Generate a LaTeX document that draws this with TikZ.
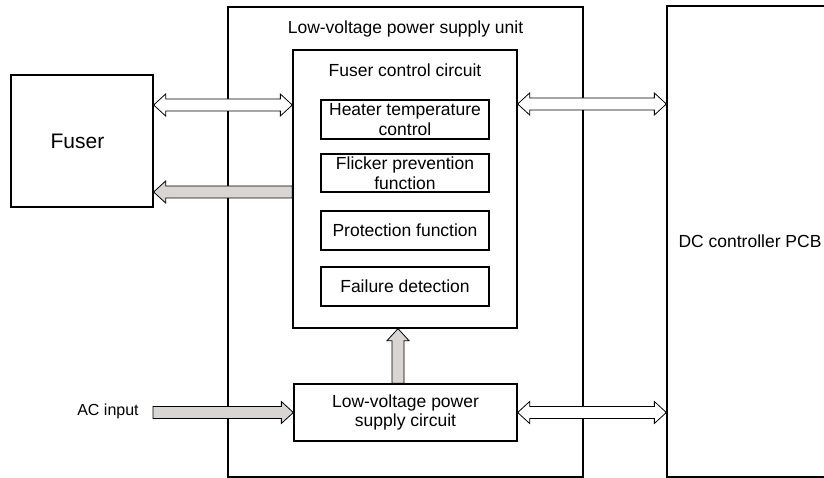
\documentclass[tikz,border=0pt]{standalone}
\usepackage{fontspec}
\setmainfont{Liberation Sans}
\usetikzlibrary{calc}
\definecolor{arrowgrey}{RGB}{217,213,211}
\newcommand\sglarrow[3]{%
  \coordinate (hA) at ($(#3)!12pt!(#2)$);
  \draw[#1] ($(#2)!6pt!90:(#3)$) -- ($(hA)!6pt!90:(#3)$) -- ($(hA)!11pt!90:(#3)$) -- (#3)
    -- ($(hA)!11pt!-90:(#3)$) -- ($(hA)!6pt!-90:(#3)$) -- ($(#2)!6pt!-90:(#3)$) -- cycle;
}
\newcommand\dblarrow[3]{%
  \coordinate (hA) at ($(#2)!12pt!(#3)$);
  \coordinate (hB) at ($(#3)!12pt!(#2)$);
  \draw[#1] (#2) -- ($(hA)!11pt!90:(#3)$) -- ($(hA)!6pt!90:(#3)$) -- ($(hB)!6pt!-90:(#2)$)
    -- ($(hB)!11pt!-90:(#2)$) -- (#3) -- ($(hB)!11pt!90:(#2)$) -- ($(hB)!6pt!90:(#2)$)
    -- ($(hA)!6pt!-90:(#3)$) -- ($(hA)!11pt!-90:(#3)$) -- cycle;
}
\tikzset{
  box/.style={draw, line width=1.3pt, inner sep=0pt, align=center},
  txt/.style={inner sep=0pt, align=center, font=\fontsize{17.5}{19.5}\selectfont},
  whitearrow/.style={draw, line width=0.8pt, fill=white, line join=miter},
  greyarrow/.style={draw, line width=0.8pt, fill=arrowgrey, line join=miter},
}
\begin{document}
\begin{tikzpicture}[x=1pt, y=-1pt]
\useasboundingbox (0,0) rectangle (824,478);
% outer boxes
\node[box, minimum width=355pt, minimum height=470pt] (unit) at (405.5,242) {};
\node[txt] (unittitle) at (405.5,29) {Low-voltage power supply unit};
\node[box, minimum width=163pt, minimum height=471pt, txt] (dc) at (748.5,241.5) {\hspace*{3pt}DC controller PCB};
\node[box, minimum width=142pt, minimum height=132pt, font=\fontsize{21}{24}\selectfont] (fuser) at (82,141) {\hspace*{-9pt}Fuser};
% fuser control circuit
\node[box, minimum width=224pt, minimum height=278pt] (fcc) at (405,189) {};
\node[txt] (fcctitle) at (405,70) {Fuser control circuit};
\node[box, txt, minimum width=168pt, minimum height=39pt] (heater) at (405,119.5) {Heater temperature\\control};
\node[box, txt, minimum width=168pt, minimum height=38pt] (flicker) at (405,173) {Flicker prevention\\function};
\node[box, txt, minimum width=168pt, minimum height=39pt] (prot) at (405,230.5) {Protection function};
\node[box, txt, minimum width=168pt, minimum height=39pt] (fail) at (405,286.5) {Failure detection};
% low-voltage circuit
\node[box, txt, minimum width=223pt, minimum height=57pt] (lv) at (405.5,412.5) {Low-voltage power\\supply circuit};
% AC input
\node[inner sep=0pt, font=\fontsize{16}{19}\selectfont] (ac) at (108,411) {AC input};
\coordinate (acs) at (153,412.5);
% arrows
\coordinate (f1) at ($(fuser.east)+(0,-36)$);
\coordinate (f2) at ($(fuser.east)+(0,51)$);
\dblarrow{whitearrow}{f1}{fcc.west |- f1}
\sglarrow{greyarrow}{fcc.west |- f2}{f2}
\coordinate (d1) at ($(fcc.east)+(0,-85)$);
\dblarrow{whitearrow}{d1}{dc.west |- d1}
\dblarrow{whitearrow}{lv.east}{dc.west |- lv.east}
\sglarrow{greyarrow}{acs}{lv.west}
\coordinate (v1) at ($(lv.north)+(-7.5,0)$);
\sglarrow{greyarrow}{v1}{fcc.south -| v1}
\end{tikzpicture}
\end{document}
